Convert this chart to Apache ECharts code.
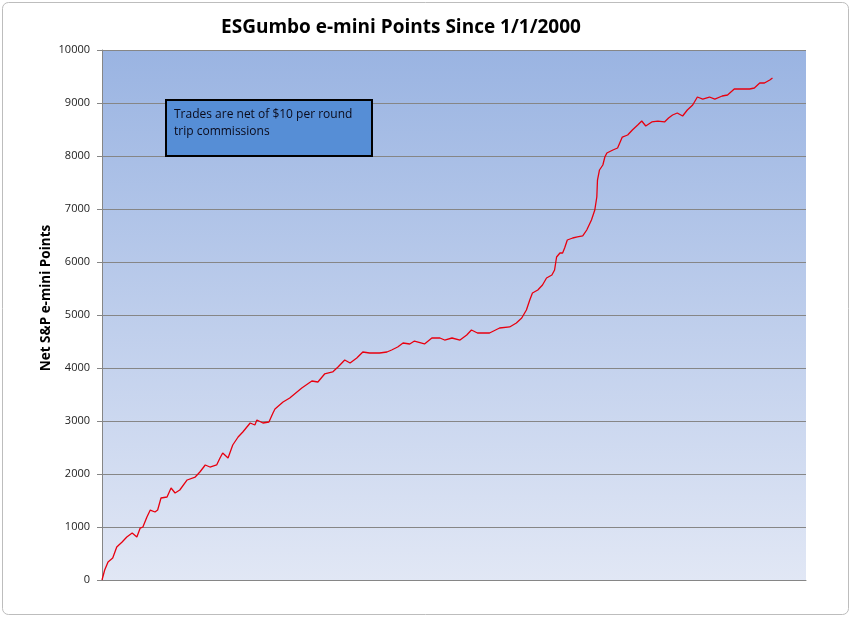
<!DOCTYPE html>
<html>
<head>
<meta charset="utf-8">
<script src="https://cdn.jsdelivr.net/npm/echarts@6/dist/echarts.min.js"></script>
<style>
html,body{margin:0;padding:0;background:#fff;}
#c{width:852px;height:617px;}
</style>
</head>
<body>
<div id="c"></div>
<script>
// progress along the record (0 = 1/1/2000, 100 = latest trade)
const progress = [0,0.4,0.9,1.6,2.2,3.0,3.7,4.5,5.2,5.7,6.1,6.7,7.2,7.9,8.3,8.8,9.7,10.3,10.9,11.6,12.7,13.9,14.6,15.4,16.1,17.1,17.6,18.0,18.8,19.5,20.3,21.0,22.1,22.8,23.1,24.0,24.9,25.5,25.8,27.0,28.0,29.8,31.3,32.2,33.2,34.4,35.2,36.2,37.0,38.0,38.9,39.9,41.4,42.5,43.2,44.1,44.9,45.9,46.6,48.1,49.2,50.4,51.1,52.2,53.4,54.4,55.1,56.0,57.8,59.3,60.8,61.8,62.6,63.3,63.8,64.2,65.0,65.7,66.3,67.1,67.5,67.8,68.3,68.7,69.0,69.4,70.2,70.9,71.7,72.3,73.0,73.5,73.8,73.9,74.2,74.7,75.0,75.3,76.2,76.9,77.6,78.4,79.1,79.9,80.5,81.1,82.0,82.9,83.9,84.5,85.1,85.8,86.6,87.3,88.1,88.8,89.6,90.6,91.4,92.5,93.3,94.3,95.5,96.6,97.3,98.1,98.8,99.6,100];
const points = [0,189,340,415,623,717,811,887,811,980,1000,1189,1320,1283,1320,1547,1566,1736,1642,1698,1887,1943,2038,2170,2132,2170,2302,2396,2302,2547,2698,2792,2962,2925,3019,2962,2981,3151,3226,3358,3434,3623,3755,3736,3887,3925,4019,4151,4094,4189,4302,4283,4283,4302,4340,4396,4472,4453,4509,4453,4566,4566,4528,4566,4528,4623,4717,4660,4660,4755,4774,4849,4943,5094,5283,5415,5472,5566,5698,5755,5849,6094,6170,6170,6264,6415,6453,6472,6491,6604,6792,6981,7226,7547,7736,7830,7981,8057,8113,8151,8358,8396,8491,8585,8660,8566,8642,8660,8642,8717,8774,8811,8755,8868,8962,9113,9075,9113,9075,9132,9151,9264,9264,9264,9283,9377,9377,9434,9472];
const yTicks = [0,1000,2000,3000,4000,5000,6000,7000,8000,9000,10000];
const titleText = 'ESGumbo e-mini Points Since 1/1/2000';
const yName = 'Net S&P e-mini Points';
const noteLines = ['Trades are net of $10 per round', 'trip commissions'];

const seriesData = progress.map((p, i) => [p, points[i]]);
const font = "'Open Sans', 'Noto Sans', sans-serif";

const chart = echarts.init(document.getElementById('c'), null, {renderer: 'canvas'});
chart.setOption({
  animation: false,
  backgroundColor: '#fff',
  grid: {left: 102, right: 46, top: 50, bottom: 37,
    show: true, borderWidth: 0,
    backgroundColor: new echarts.graphic.LinearGradient(0, 0, 0, 1, [
      {offset: 0, color: '#9ab4e2'},
      {offset: 1, color: '#e1e7f5'}
    ])
  },
  xAxis: {
    type: 'value', min: 0, max: 105,
    axisLine: {show: true, lineStyle: {color: '#868686', width: 1}},
    axisTick: {show: false}, axisLabel: {show: false}, splitLine: {show: false}
  },
  yAxis: {
    type: 'value', min: 0, max: 10000, interval: 1000,
    name: yName, nameLocation: 'middle', nameGap: 49, nameMoveOverlap: false,
    nameTextStyle: {fontFamily: font, fontWeight: 'bold', fontSize: 13.5, color: '#000', padding: [0, 0, 0, 34]},
    axisLine: {show: true, lineStyle: {color: '#868686', width: 1}},
    axisTick: {show: true, length: 5, lineStyle: {color: '#868686'}},
    axisLabel: {fontFamily: font, fontSize: 11, color: '#222', margin: 12,
      formatter: v => yTicks.includes(v) ? String(v) : ''},
    splitLine: {show: true, lineStyle: {color: '#868686', width: 1}}
  },
  series: [{
    type: 'line', data: seriesData, showSymbol: false, symbol: 'none',
    lineStyle: {color: '#e8000f', width: 1.3}, z: 5
  }],
  graphic: [
    {type: 'rect', shape: {x: 2.5, y: 2.5, width: 846, height: 612, r: 6},
     style: {fill: 'none', stroke: '#bdbdbd', lineWidth: 1}, z: 0, silent: true},
    {type: 'text', x: 401, y: 28, style: {text: titleText, fontFamily: font, fontWeight: 'bold', fontSize: 19, fill: '#000', textAlign: 'center', textVerticalAlign: 'middle'}, z: 10},
    {type: 'rect', shape: {x: 166, y: 100, width: 206, height: 56},
     style: {fill: '#568ed6', stroke: '#000', lineWidth: 2}, z: 10},
    {type: 'text', x: 174, y: 106, style: {text: noteLines.join('\n'), fontFamily: font, fontSize: 12, lineHeight: 17, fill: '#0a0a1a'}, z: 11}
  ]
});
</script>
</body>
</html>
